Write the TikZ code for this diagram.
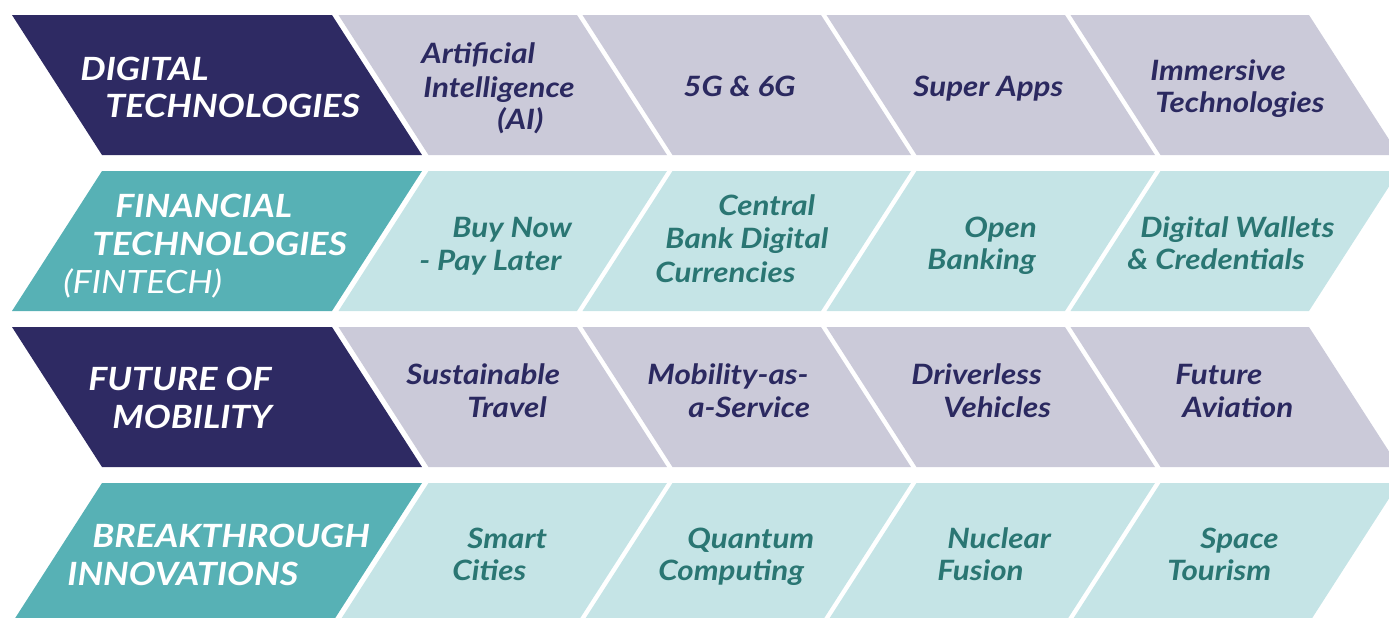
\documentclass[tikz,border=0pt]{standalone}
\usepackage{fontspec}
\newfontfamily\lato[FakeStretch=1.12]{Lato}
\definecolor{navy}{HTML}{2E2A63}
\definecolor{lav}{HTML}{CBCAD9}
\definecolor{teal}{HTML}{57B1B5}
\definecolor{lteal}{HTML}{C5E4E6}
\definecolor{navytext}{HTML}{2B2960}
\definecolor{tealtext}{HTML}{2A7673}
\begin{document}
\begin{tikzpicture}[x=0.5pt,y=-0.5pt,
  headtxt/.style={font=\lato\bfseries\itshape\fontsize{16}{18}\selectfont,
    text=white, anchor=base west, inner sep=0pt},
  headlight/.style={headtxt, font=\lato\itshape\fontsize{16}{18}\selectfont},
  celltxt/.style={font=\lato\bfseries\itshape\fontsize{14}{16}\selectfont,
    anchor=base west, inner sep=0pt},
  darkcell/.style={celltxt, text=navytext},
  tealcell/.style={celltxt, text=tealtext}]
\useasboundingbox (0,0) rectangle (1389,617);
\clip (0,0) rectangle (1389,617);

% rows leaning right (top edge further left)
\foreach \yt in {15,327}{
  \fill[navy] (12,\yt) -- (332,\yt) -- (422,\yt+140) -- (102,\yt+140) -- cycle;
  \foreach \s in {338.5,582.5,826.5,1070.5}
    \fill[lav] (\s,\yt) -- (\s+238.5,\yt) -- (\s+328.5,\yt+140) -- (\s+90,\yt+140) -- cycle;
}
% rows leaning left (top edge further right)
\foreach \yt in {171,483}{
  \fill[teal] (102,\yt) -- (422,\yt) -- (332,\yt+140) -- (12,\yt+140) -- cycle;
  \foreach \s in {338.5,582.5,826.5,1070.5}
    \fill[lteal] (\s+90,\yt) -- (\s+328.5,\yt) -- (\s+238.5,\yt+140) -- (\s,\yt+140) -- cycle;
}

% row 1: digital technologies
\node[headtxt] (dt1) at (80,80) {DIGITAL};
\node[headtxt] (dt2) at (105,117) {TECHNOLOGIES};
\node[darkcell] (ai1) at (421,63) {Artificial};
\node[darkcell] (ai2) at (423,97) {Intelligence};
\node[darkcell] (ai3) at (497,129) {(AI)};
\node[darkcell] (g5) at (683,96) {5G \& 6G};
\node[darkcell] (sa) at (913,96) {Super Apps};
\node[darkcell] (im1) at (1150,80) {Immersive};
\node[darkcell] (im2) at (1155,112) {Technologies};

% row 2: financial technologies
\node[headtxt] (ft1) at (115,217) {FINANCIAL};
\node[headtxt] (ft2) at (92,255) {TECHNOLOGIES};
\node[headlight] (ft3) at (63,293) {(FINTECH)};
\node[tealcell] (bn1) at (452,237) {Buy Now};
\node[tealcell] (bn2) at (419,270) {- Pay Later};
\node[tealcell] (cb1) at (718,215) {Central};
\node[tealcell] (cb2) at (665,248) {Bank Digital};
\node[tealcell] (cb3) at (655,282) {Currencies};
\node[tealcell] (ob1) at (964,237) {Open};
\node[tealcell] (ob2) at (927,269) {Banking};
\node[tealcell] (dw1) at (1140,237) {Digital Wallets};
\node[tealcell] (dw2) at (1127,269) {\& Credentials};

% row 3: future of mobility
\node[headtxt] (fm1) at (88,390) {FUTURE OF};
\node[headtxt] (fm2) at (112,428) {MOBILITY};
\node[darkcell] (st1) at (406,384) {Sustainable};
\node[darkcell] (st2) at (467,417) {Travel};
\node[darkcell] (ma1) at (647,384) {Mobility-as-};
\node[darkcell] (ma2) at (688,417) {a-Service};
\node[darkcell] (dv1) at (911,384) {Driverless};
\node[darkcell] (dv2) at (943,417) {Vehicles};
\node[darkcell] (fa1) at (1175,384) {Future};
\node[darkcell] (fa2) at (1182,417) {Aviation};

% row 4: breakthrough innovations
\node[headtxt] (bi1) at (92,547) {BREAKTHROUGH};
\node[headtxt] (bi2) at (67,585) {INNOVATIONS};
\node[tealcell] (sc1) at (467,548) {Smart};
\node[tealcell] (sc2) at (452,580) {Cities};
\node[tealcell] (qc1) at (687,548) {Quantum};
\node[tealcell] (qc2) at (658,580) {Computing};
\node[tealcell] (nf1) at (947,548) {Nuclear};
\node[tealcell] (nf2) at (937,580) {Fusion};
\node[tealcell] (sp1) at (1200,548) {Space};
\node[tealcell] (sp2) at (1167,580) {Tourism};
\end{tikzpicture}
\end{document}
